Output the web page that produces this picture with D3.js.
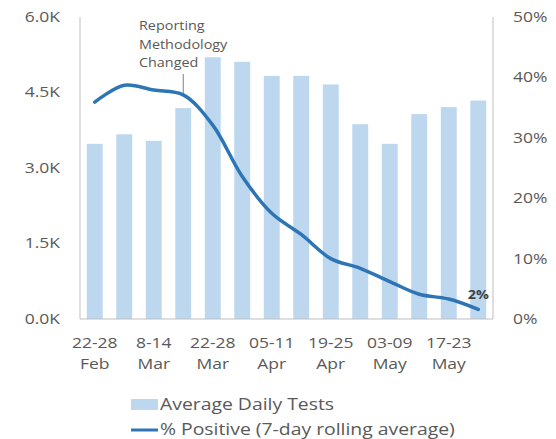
<!DOCTYPE html>
<html>
<head>
<meta charset="utf-8">
<script src="https://cdn.jsdelivr.net/npm/d3@7"></script>
<style>
  body { margin: 0; background: #fff; }
  text { font-family: "Open Sans", sans-serif; fill: #595959; }
</style>
</head>
<body>
<div id="chart"></div>
<script>
// 数据
const weeks = ['22-28 Feb', '29 Feb-06 Mar', '8-14 Mar', '15-21 Mar', '22-28 Mar', '29 Mar-04 Apr',
  '05-11 Apr', '12-18 Apr', '19-25 Apr', '26 Apr-02 May', '03-09 May', '10-16 May', '17-23 May', '24-30 May'];
const avgTests = [3480, 3670, 3540, 4190, 5200, 5110, 4830, 4830, 4660, 3870, 3480, 4070, 4210, 4340];
const pctPositive = [35.9, 38.7, 37.9, 37.1, 32.1, 23.6, 17.5, 14.0, 10.0, 8.4, 6.2, 4.1, 3.3, 1.6];
const tickLabels = [['22-28', 'Feb'], ['8-14', 'Mar'], ['22-28', 'Mar'], ['05-11', 'Apr'],
  ['19-25', 'Apr'], ['03-09', 'May'], ['17-23', 'May']];
const leftTicks = [0, 1500, 3000, 4500, 6000];
const rightTicks = [0, 10, 20, 30, 40, 50];

const width = 556, height = 439;
const margin = { left: 80, right: 63, top: 17, bottom: 120 };
const SX = 1.25; // 原图文字横向拉伸

const svg = d3.select('#chart').append('svg')
  .attr('width', width).attr('height', height);

const x = d3.scaleBand().domain(weeks)
  .range([margin.left, width - margin.right]).paddingInner(0.46).paddingOuter(0.23);
const yL = d3.scaleLinear().domain([0, 6000]).range([height - margin.bottom, margin.top]);
const yR = d3.scaleLinear().domain([0, 50]).range([height - margin.bottom, margin.top]);

// 拉伸文字
function put(sel, px, py, sx) {
  sel.attr('transform', `translate(${px},${py}) scale(${sx || SX},1)`);
  return sel;
}

// 柱子
svg.append('g').selectAll('rect').data(avgTests).enter().append('rect')
  .attr('x', (d, i) => x(weeks[i]))
  .attr('width', x.bandwidth())
  .attr('y', d => yL(d))
  .attr('height', d => yL(0) - yL(d))
  .attr('fill', '#bdd7ee');

// 轴线
const axisColor = '#bfbfbf';
svg.append('line').attr('x1', margin.left).attr('x2', margin.left)
  .attr('y1', yL(6000)).attr('y2', yL(0)).attr('stroke', axisColor);
svg.append('line').attr('x1', width - margin.right).attr('x2', width - margin.right)
  .attr('y1', yR(50)).attr('y2', yR(0)).attr('stroke', axisColor);
svg.append('line').attr('x1', margin.left).attr('x2', width - margin.right)
  .attr('y1', yL(0)).attr('y2', yL(0)).attr('stroke', axisColor);

// 左轴标签
leftTicks.forEach(t => {
  put(svg.append('text'), 60, yL(t))
    .attr('text-anchor', 'end').attr('dy', '0.35em')
    .style('font-size', '14px')
    .text((t / 1000).toFixed(1) + 'K');
});

// 右轴标签
rightTicks.forEach(t => {
  put(svg.append('text'), 513, yR(t))
    .attr('dy', '0.35em')
    .style('font-size', '14px')
    .text(t + '%');
});

// X轴标签
tickLabels.forEach((lab, k) => {
  const cx = x(weeks[k * 2]) + x.bandwidth() / 2;
  put(svg.append('text'), cx, 343).attr('text-anchor', 'middle').attr('dy', '0.35em')
    .style('font-size', '14px').text(lab[0]);
  put(svg.append('text'), cx, 364).attr('text-anchor', 'middle').attr('dy', '0.35em')
    .style('font-size', '14px').text(lab[1]);
});

// 折线
const line = d3.line()
  .x((d, i) => x(weeks[i]) + x.bandwidth() / 2)
  .y(d => yR(d))
  .curve(d3.curveCatmullRom.alpha(0.5));
svg.append('path').datum(pctPositive)
  .attr('d', line)
  .attr('fill', 'none')
  .attr('stroke', '#2e75b6')
  .attr('stroke-width', 3.5)
  .attr('stroke-linecap', 'round');

// 注释
const ax = x(weeks[3]) + x.bandwidth() / 2;
svg.append('line').attr('x1', ax).attr('x2', ax)
  .attr('y1', 74).attr('y2', yR(pctPositive[3]) - 2)
  .attr('stroke', '#7f7f7f');
['Reporting', 'Methodology', 'Changed'].forEach((s, i) => {
  put(svg.append('text'), 139, 26 + i * 18.5, 1.15).attr('dy', '0.35em')
    .style('font-size', '12.5px').text(s);
});

// 末端标签
const last = pctPositive.length - 1;
put(svg.append('text'), x(weeks[last]) + x.bandwidth() / 2, 294, 1.1)
  .attr('text-anchor', 'middle').attr('dy', '0.35em')
  .style('font-size', '13px').style('font-weight', 'bold').style('fill', '#404040')
  .text(Math.round(pctPositive[last]) + '%');

// 图例
svg.append('rect').attr('x', 131).attr('y', 399).attr('width', 27).attr('height', 11)
  .attr('fill', '#bdd7ee');
put(svg.append('text'), 160, 404.5).attr('dy', '0.35em')
  .style('font-size', '15.5px').text('Average Daily Tests');
svg.append('line').attr('x1', 131).attr('x2', 158).attr('y1', 430).attr('y2', 430)
  .attr('stroke', '#2e75b6').attr('stroke-width', 3);
put(svg.append('text'), 160, 430).attr('dy', '0.35em')
  .style('font-size', '15.5px').text('% Positive (7-day rolling average)');
</script>
</body>
</html>
